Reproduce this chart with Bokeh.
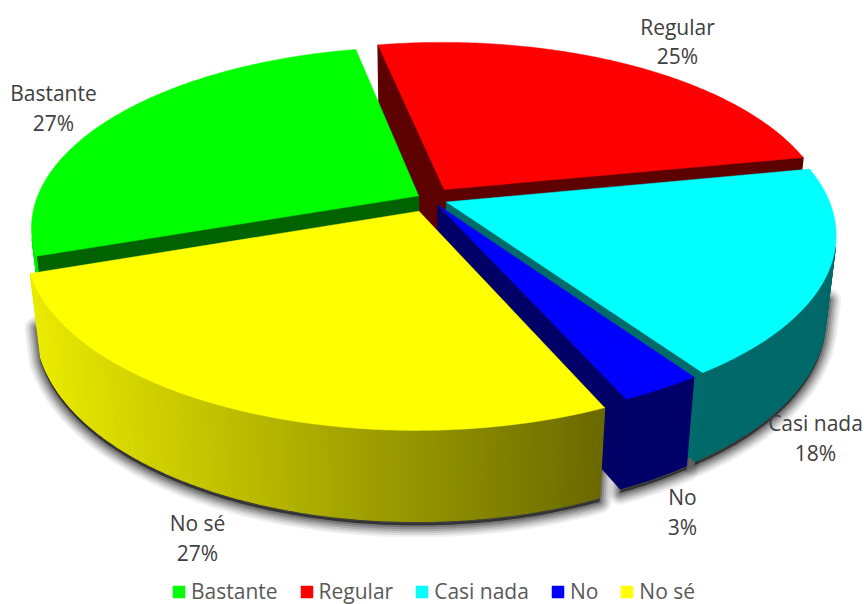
import math
from bokeh.plotting import figure
from bokeh.models import Legend, LegendItem
from bokeh.core.properties import value
from bokeh.embed import file_html
from bokeh.resources import INLINE

# data
categories = ["Bastante", "Regular", "Casi nada", "No", "No sé"]
shares = [27.1, 25.1, 18.5, 2.9, 26.4]
percent_labels = ["27%", "25%", "18%", "3%", "27%"]

# style
top_colors = ["#00ff00", "#ff0000", "#00ffff", "#0000ff", "#ffff00"]
base_rgb = [(0, 1, 0), (1, 0, 0), (0, 1, 1), (0, 0, 1), (1, 1, 0)]
radial_shade = [0.39, 0.36, 0.42, 0.40, 0.40]
explode = [0.036, 0.065, 0.045, 0.04, 0.075]
label_xy = [(53, 92, 122), (677, 26, 55), (815, 422, 452), (682, 496, 526), (197, 522, 552)]

# projection parameters
START = -109.0
CX, CY = 430.0, 198.5
A, B, H, K, M = 382.0, 176.0, 82.0, 0.175, 0.025


def proj(x, y, z):
    w = 1 + K * y + M * z
    return CX + A * x / w, CY - (B * y - H * z) / w


def area(pts):
    s = 0.0
    for i in range(len(pts)):
        x0, y0 = pts[i]
        x1, y1 = pts[(i + 1) % len(pts)]
        s += x0 * y1 - x1 * y0
    return s / 2


def hexcol(rgb, f):
    return "#%02x%02x%02x" % tuple(int(round(c * f * 255)) for c in rgb)


def wall_shade(x):
    t = min(1.0, max(0.0, (x - 35.0) / (606.0 - 35.0)))
    return 0.92 - t * (0.92 - 0.41)


p = figure(width=864, height=604, x_range=(0, 864), y_range=(604, 0),
           toolbar_location=None, output_backend="svg", min_border=0,
           outline_line_color=None, x_axis_location=None, y_axis_location=None,
           background_fill_color="#ffffff", border_fill_color="#ffffff")
p.xgrid.visible = False
p.ygrid.visible = False

total = sum(shares)
angles = []
a0 = START
for s in shares:
    a1 = a0 + s / total * 360.0
    angles.append((a0, a1))
    a0 = a1

shadow_polys = []
layers = {}
for i in range(len(shares)):
    t0, t1 = angles[i]
    mid = math.radians((t0 + t1) / 2)
    ex, ey = explode[i] * math.sin(mid), explode[i] * math.cos(mid)
    n = max(2, int((t1 - t0) * 2))
    ths = [math.radians(t0 + (t1 - t0) * j / n) for j in range(n + 1)]
    rim = [(ex + math.sin(t), ey + math.cos(t)) for t in ths]
    top = [proj(x, y, 0) for x, y in rim]
    bot = [proj(x, y, 1) for x, y in rim]
    ct, cb = proj(ex, ey, 0), proj(ex, ey, 1)

    xs, ys, cols = [], [], []
    for poly in ([ct, top[0], bot[0], cb], [top[-1], ct, cb, bot[-1]]):
        if area(poly) < 0:
            xs.append([q[0] for q in poly])
            ys.append([q[1] for q in poly])
            cols.append(hexcol(base_rgb[i], radial_shade[i]))
    vis_mid, vis_bot = [], []
    for j in range(n):
        quad = [top[j], top[j + 1], bot[j + 1], bot[j]]
        if area(quad) < 0:
            xs.append([q[0] for q in quad])
            ys.append([q[1] for q in quad])
            cols.append(hexcol(base_rgb[i], wall_shade(sum(q[0] for q in quad) / 4)))
            for k in ([j, j + 1] if not vis_bot else [j + 1]):
                vis_mid.append(proj(rim[k][0], rim[k][1], 0.6))
                vis_bot.append(bot[k])
    if vis_bot and i != 0:
        shadow_polys.append(vis_mid + vis_bot[::-1])
    layers[i] = (xs, ys, cols, [ct] + top)

# soft shadow, drawn first
for width, alpha in ((24, 0.06), (20, 0.08), (16, 0.10), (12, 0.13), (8, 0.16), (4, 0.20)):
    p.patches([[q[0] for q in s] for s in shadow_polys],
              [[q[1] + 4 for q in s] for s in shadow_polys],
              fill_color="#000000", fill_alpha=alpha, line_color="#000000",
              line_alpha=alpha, line_width=width, line_join="round")

tops = {}
for i in (1, 0, 2, 3, 4):
    xs, ys, cols, tp = layers[i]
    if xs:
        p.patches(xs, ys, fill_color=cols, line_color=cols, line_width=1.3)
    tops[i] = p.patch([q[0] for q in tp], [q[1] for q in tp],
                      fill_color=top_colors[i], line_color=top_colors[i], line_width=0.5)

p.text(x=[q[0] for q in label_xy], y=[q[1] for q in label_xy], text=categories,
       text_align="center", text_baseline="middle", text_color="#404040",
       text_font=value("Open Sans"), text_font_size="21px")
p.text(x=[q[0] for q in label_xy], y=[q[2] for q in label_xy], text=percent_labels,
       text_align="center", text_baseline="middle", text_color="#404040",
       text_font=value("Open Sans"), text_font_size="21px")

legend = Legend(items=[LegendItem(label=value(categories[i]), renderers=[tops[i]]) for i in range(5)],
                orientation="horizontal", location=(171, -1), margin=0, padding=0,
                spacing=21, glyph_width=15, glyph_height=15, label_standoff=5,
                label_text_font="Open Sans", label_text_font_size="21px",
                label_text_color="#595959", background_fill_alpha=0,
                border_line_color=None)
p.add_layout(legend, "center")

open("out.html", "w").write(file_html(p, INLINE))
